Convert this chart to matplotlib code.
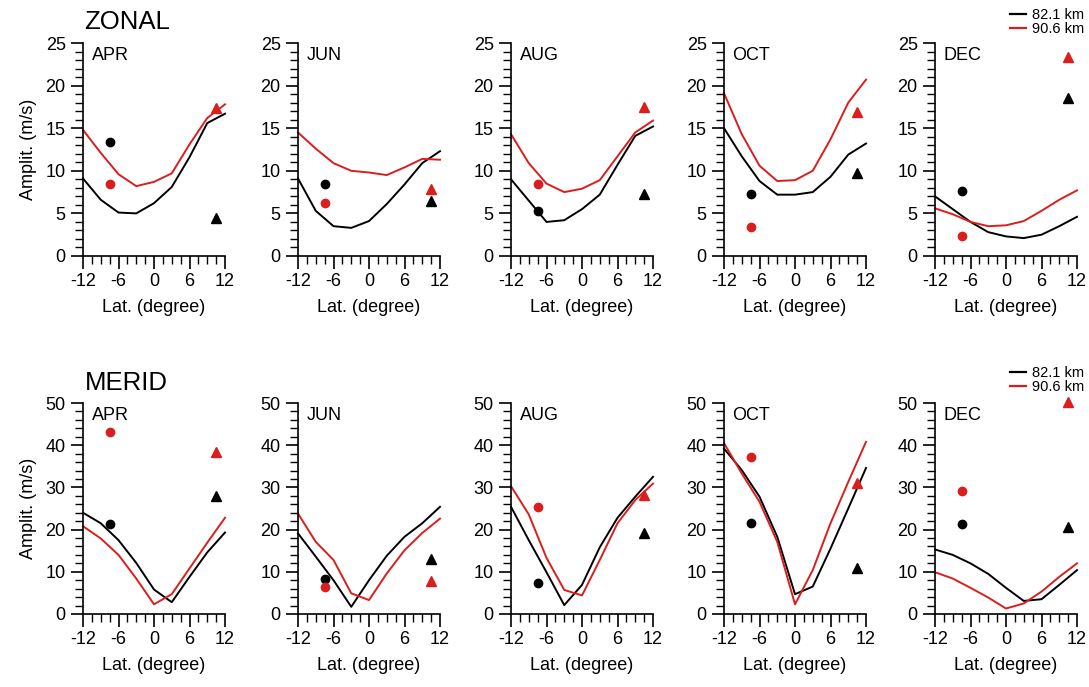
import numpy as np
import matplotlib
matplotlib.use("Agg")
import matplotlib.pyplot as plt
from matplotlib.ticker import MultipleLocator
from matplotlib.lines import Line2D

plt.rcParams['font.family'] = ['Liberation Sans', 'DejaVu Sans']
plt.rcParams['axes.unicode_minus'] = False

months = ['APR', 'JUN', 'AUG', 'OCT', 'DEC']
lat = [-12, -9, -6, -3, 0, 3, 6, 9, 12]

# ZONAL model curves (82.1 km / 90.6 km)
zon_821 = [
    [9.1, 6.6, 5.1, 5.0, 6.2, 8.1, 11.6, 15.6, 16.7],
    [9.1, 5.3, 3.5, 3.3, 4.1, 6.1, 8.4, 10.9, 12.3],
    [9.0, 6.5, 4.0, 4.2, 5.5, 7.2, 10.7, 14.1, 15.2],
    [15.0, 11.7, 8.8, 7.2, 7.2, 7.5, 9.3, 11.9, 13.2],
    [7.0, 5.5, 4.0, 2.8, 2.3, 2.1, 2.5, 3.5, 4.6],
]
zon_906 = [
    [14.8, 12.1, 9.6, 8.2, 8.7, 9.7, 13.1, 16.2, 17.8],
    [14.5, 12.6, 10.9, 10.0, 9.8, 9.5, 10.4, 11.4, 11.3],
    [14.3, 10.9, 8.5, 7.5, 7.9, 8.9, 11.7, 14.5, 15.9],
    [19.1, 14.3, 10.6, 8.8, 8.9, 10.0, 13.7, 18.0, 20.7],
    [5.6, 4.9, 4.0, 3.5, 3.6, 4.1, 5.3, 6.6, 7.7],
]
# MERID model curves
mer_821 = [
    [24.0, 21.5, 17.5, 12.1, 5.8, 2.8, 8.8, 14.6, 19.3],
    [19.1, 13.6, 8.0, 1.7, 8.0, 13.8, 18.3, 21.5, 25.4],
    [25.4, 17.5, 9.9, 2.1, 6.9, 15.8, 22.8, 27.8, 32.5],
    [39.2, 34.1, 27.8, 18.3, 4.7, 6.5, 15.5, 25.0, 34.6],
    [15.3, 14.0, 12.0, 9.5, 6.2, 3.1, 3.5, 6.9, 10.4],
]
mer_906 = [
    [20.8, 17.9, 14.0, 8.4, 2.3, 4.7, 10.8, 16.9, 22.8],
    [23.8, 17.1, 12.8, 4.9, 3.3, 9.6, 15.1, 19.2, 22.6],
    [30.3, 23.6, 13.3, 5.7, 4.4, 12.8, 21.5, 27.0, 30.9],
    [40.5, 33.3, 26.6, 17.1, 2.3, 10.4, 21.5, 31.3, 40.8],
    [9.9, 8.4, 6.2, 3.9, 1.3, 2.5, 5.3, 8.8, 12.0],
]

# observations: circle at south station, triangle at north station
circ_lat = -7.5
tri_lat = 10.4
zon_circ_821 = [13.4, 8.4, 5.3, 7.3, 7.6]
zon_circ_906 = [8.5, 6.25, 8.5, 3.4, 2.3]
zon_tri_821 = [4.5, 6.5, 7.3, 9.7, 18.6]
zon_tri_906 = [17.4, 7.9, 17.5, 16.9, 23.4]
mer_circ_821 = [21.3, 8.3, 7.4, 21.5, 21.3]
mer_circ_906 = [43.1, 6.5, 25.4, 37.1, 29.2]
mer_tri_821 = [28.0, 13.0, 19.2, 11.0, 20.7]
mer_tri_906 = [38.4, 7.8, 28.2, 31.1, 50.3]

RED = '#d91e1e'
W, H = 1089, 687
fig = plt.figure(figsize=(W / 100, H / 100), dpi=100)

lefts = [83, 298, 511, 724, 935]
rows = [
    dict(bottom=1 - 256 / H, height=213 / H, ymax=25, ymaj=5, ymin=1,
         c8=zon_821, c9=zon_906, oc8=zon_circ_821, oc9=zon_circ_906,
         ot8=zon_tri_821, ot9=zon_tri_906, title='ZONAL', leg_top=8),
    dict(bottom=1 - 614 / H, height=211 / H, ymax=50, ymaj=10, ymin=2,
         c8=mer_821, c9=mer_906, oc8=mer_circ_821, oc9=mer_circ_906,
         ot8=mer_tri_821, ot9=mer_tri_906, title='MERID', leg_top=366),
]

for r in rows:
    for i, m in enumerate(months):
        ax = fig.add_axes([lefts[i] / W, r['bottom'], 142 / W, r['height']])
        ax.plot(lat, r['c8'][i], color='black', lw=1.4, clip_on=False)
        ax.plot(lat, r['c9'][i], color=RED, lw=1.4, clip_on=False)
        ax.plot(circ_lat, r['oc8'][i], 'o', color='black', ms=6, clip_on=False)
        ax.plot(circ_lat, r['oc9'][i], 'o', color=RED, ms=6, clip_on=False)
        ax.plot(tri_lat, r['ot8'][i], '^', color='black', ms=6.5, clip_on=False)
        ax.plot(tri_lat, r['ot9'][i], '^', color=RED, ms=6.5, clip_on=False)
        ax.set_xlim(-12, 12)
        ax.set_ylim(0, r['ymax'])
        ax.set_xticks([-12, -6, 0, 6, 12])
        ax.xaxis.set_minor_locator(MultipleLocator(1.5))
        ax.yaxis.set_major_locator(MultipleLocator(r['ymaj']))
        ax.yaxis.set_minor_locator(MultipleLocator(r['ymin']))
        for s in ['top', 'right']:
            ax.spines[s].set_visible(False)
        for s in ['left', 'bottom']:
            ax.spines[s].set_linewidth(1.2)
        ax.tick_params(which='major', length=9, width=1.2, labelsize=13, direction='out')
        ax.tick_params(which='minor', length=5.5, width=1.0, direction='out')
        ax.set_xlabel('Lat. (degree)', fontsize=13, labelpad=6)
        ax.text(0.06, 0.98, m, transform=ax.transAxes, fontsize=13,
                ha='left', va='top')
        if i == 0:
            ax.set_ylabel('Amplit. (m/s)', fontsize=13, labelpad=6)
            ax.text(0.01, 1.04, r['title'], transform=ax.transAxes,
                    fontsize=18.5, ha='left', va='bottom')

    handles = [Line2D([], [], color='black', lw=1.6),
               Line2D([], [], color=RED, lw=1.6)]
    fig.legend(handles, ['82.1 km', '90.6 km'], loc='upper right',
               bbox_to_anchor=(1084 / W, 1 - r['leg_top'] / H), frameon=False,
               fontsize=10.5, handlelength=1.1, handletextpad=0.4,
               labelspacing=0.0, borderpad=0.0, borderaxespad=0.0)

fig.savefig('out.png', dpi=100)
